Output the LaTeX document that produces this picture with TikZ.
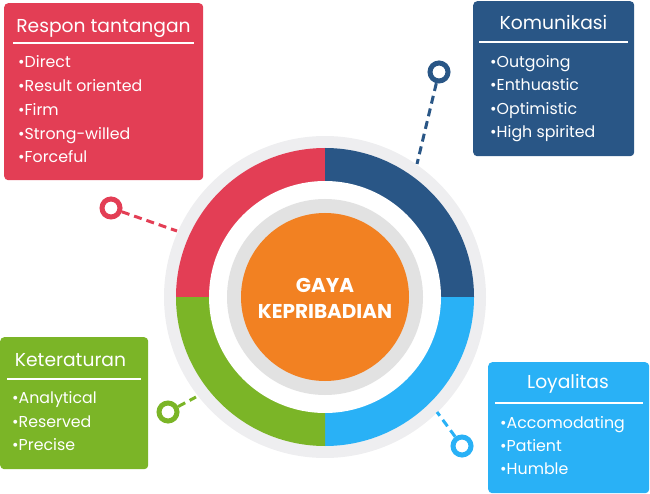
\documentclass[tikz,border=0pt]{standalone}
\usepackage{fontspec}
\setmainfont{Poppins}
\definecolor{cred}{HTML}{E33E55}
\definecolor{cdblue}{HTML}{295686}
\definecolor{clblue}{HTML}{29B1F6}
\definecolor{cgreen}{HTML}{7BB527}
\definecolor{corange}{HTML}{F28122}
\definecolor{couter}{HTML}{EEEEF0}
\definecolor{cinner}{HTML}{E2E2E2}
\begin{document}
\begin{tikzpicture}[x=1pt,y=-1pt,
  box/.style={rounded corners=4pt, minimum width=#1, inner sep=0pt, anchor=north west},
  ttl/.style={text=white, font=\fontsize{18.7}{20}\selectfont, inner sep=0pt, anchor=base},
  itm/.style={text=white, font=\fontsize{15.8}{18}\selectfont, inner sep=0pt, anchor=base west},
  rule/.style={white, line width=2.5pt},
  ring/.style={circle, draw=#1, line width=5pt, minimum size=18pt, inner sep=0pt, fill=white},
  conn/.style={draw=#1, line width=3pt, dash pattern=on 8pt off 5pt}
]
\useasboundingbox (0,0) rectangle (650,494);
\coordinate (c) at (325,297);
% rings
\fill[couter] (c) circle[radius=161pt];
\fill[cred] (c) -- ++(-149,0) arc[start angle=180, end angle=90, radius=149pt] -- cycle;
\fill[cdblue] (c) -- ++(0,-149) arc[start angle=90, end angle=0, radius=149pt] -- cycle;
\fill[clblue] (c) -- ++(149,0) arc[start angle=0, end angle=-90, radius=149pt] -- cycle;
\fill[cgreen] (c) -- ++(0,149) arc[start angle=-90, end angle=-180, radius=149pt] -- cycle;
\fill[white] (c) circle[radius=116pt];
\fill[cinner] (c) circle[radius=98pt];
\node[circle, fill=corange, minimum size=168pt, inner sep=0pt] (core) at (c) {};
\node[text=white, font=\bfseries\fontsize{20}{26}\selectfont, align=center, anchor=base] (g1) at (325,292.7) {GAYA};
\node[text=white, font=\bfseries\fontsize{20}{26}\selectfont, align=center, anchor=base] (g2) at (325,318.3) {KEPRIBADIAN};
% connectors
\node[ring=cred] (r1) at (111,208) {};
\coordinate (e1) at (177,231);
\draw[conn=cred] (r1) -- (e1);
\node[ring=cdblue] (r2) at (439,72) {};
\coordinate (e2) at (417,164);
\draw[conn=cdblue] (r2) -- (e2);
\node[ring=cgreen] (r3) at (168,412) {};
\coordinate (e3) at (196,397);
\draw[conn=cgreen] (r3) -- (e3);
\node[ring=clblue] (r4) at (462,446) {};
\coordinate (e4) at (437,412);
\draw[conn=clblue] (r4) -- (e4);
% box 1 red
\node[box=199pt, minimum height=177pt, fill=cred] (b1) at (4,3) {};
\node[ttl] (t1) at (103.5,33) {Respon tantangan};
\draw[rule] (13,43) -- (194,43);
\node[itm] (i11) at (18,68) {•Direct};
\node[itm] (i12) at (18,92) {•Result oriented};
\node[itm] (i13) at (18,116) {•Firm};
\node[itm] (i14) at (18,140) {•Strong-willed};
\node[itm] (i15) at (18,163) {•Forceful};
% box 2 dark blue
\node[box=161pt, minimum height=155pt, fill=cdblue] (b2) at (473,1) {};
\node[ttl] (t2) at (553.5,30) {Komunikasi};
\draw[rule] (479,42) -- (628,42);
\node[itm] (i21) at (490,68) {•Outgoing};
\node[itm] (i22) at (490,91) {•Enthuastic};
\node[itm] (i23) at (490,115) {•Optimistic};
\node[itm] (i24) at (490,138) {•High spirited};
% box 3 green
\node[box=148pt, minimum height=132pt, fill=cgreen] (b3) at (0,337) {};
\node[ttl] (t3) at (70.5,366) {Keteraturan};
\draw[rule] (7,379) -- (141,379);
\node[itm] (i31) at (12,403) {•Analytical};
\node[itm] (i32) at (12,427) {•Reserved};
\node[itm] (i33) at (12,450) {•Precise};
% box 4 light blue
\node[box=161pt, minimum height=131pt, fill=clblue] (b4) at (488,362) {};
\node[ttl] (t4) at (568,388) {Loyalitas};
\draw[rule] (495,403) -- (643,403);
\node[itm] (i41) at (500,428) {•Accomodating};
\node[itm] (i42) at (500,451) {•Patient};
\node[itm] (i43) at (500,474) {•Humble};
\end{tikzpicture}
\end{document}
